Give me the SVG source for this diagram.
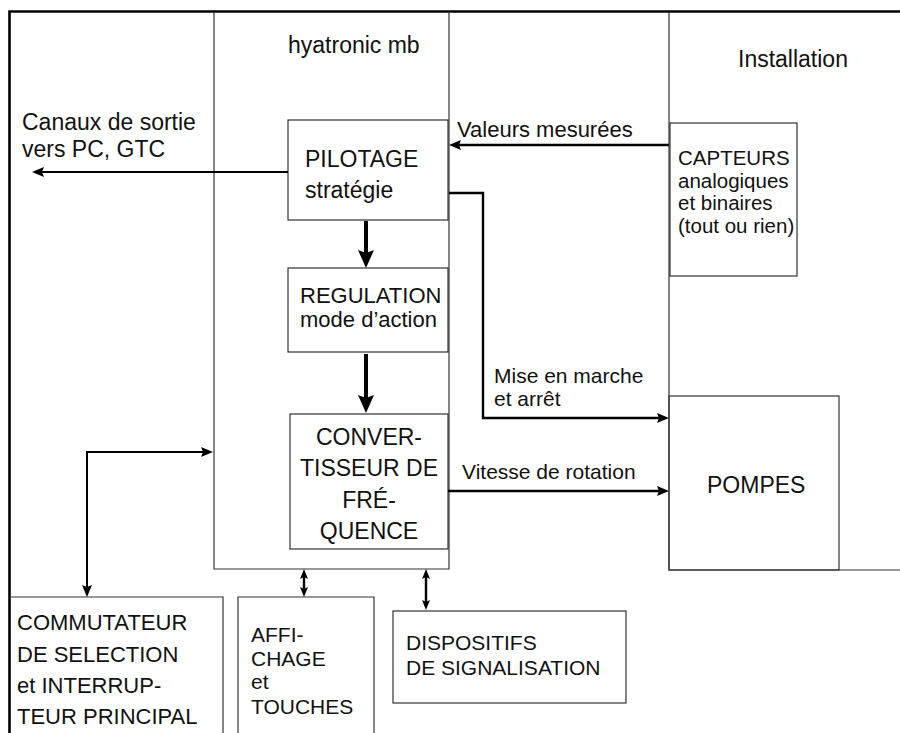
<svg xmlns="http://www.w3.org/2000/svg" width="900" height="733" viewBox="0 0 900 733">
<style>
.t{font-family:"Liberation Sans",Arial,Helvetica,sans-serif;fill:#111}
.box{fill:none;stroke:#333;stroke-width:1.2}
.frame{fill:none;stroke:#000;stroke-width:2.6}
.c{fill:none;stroke:#000;stroke-width:2.4}
.ck{fill:none;stroke:#000;stroke-width:4}
.cb{fill:none;stroke:#000;stroke-width:2}
.mid{text-anchor:middle}
</style>
<defs>
<marker id="ah" viewBox="0 0 12 10" refX="4" refY="5" markerWidth="12" markerHeight="10" markerUnits="userSpaceOnUse" orient="auto-start-reverse"><path d="M0,0 L12,5 L0,10 L2,5 Z" fill="#000"/></marker>
<marker id="ahb" viewBox="0 0 18 16" refX="6" refY="8" markerWidth="18" markerHeight="16" markerUnits="userSpaceOnUse" orient="auto"><path d="M0,0 L18,8 L0,16 L3,8 Z" fill="#000"/></marker>
<marker id="ahs" viewBox="0 0 10 8" refX="4" refY="4" markerWidth="10" markerHeight="8" markerUnits="userSpaceOnUse" orient="auto-start-reverse"><path d="M0,0 L10,4 L0,8 L2,4 Z" fill="#000"/></marker>
</defs>

<path class="frame" d="M9.5,733 V11.5 H900"/>

<g id="hyatronic">
<path class="box" d="M214,12 V569 H449 V12"/>
<text class="t" x="288" y="53" font-size="23">hyatronic mb</text>
</g>

<g id="installation">
<path class="box" d="M669,12 V570 H900"/>
<text class="t" x="738" y="67" font-size="23">Installation</text>
</g>

<g id="pilotage">
<rect class="box" x="288" y="120" width="160" height="100"/>
<text class="t" x="305" y="167" font-size="23">PILOTAGE</text>
<text class="t" x="305" y="198" font-size="23">stratégie</text>
</g>

<g id="regulation">
<rect class="box" x="288" y="268" width="160" height="84"/>
<text class="t" x="300" y="303" font-size="22">REGULATION</text>
<text class="t" x="300" y="327" font-size="22">mode d’action</text>
</g>

<g id="convertisseur">
<rect class="box" x="290" y="414" width="158" height="135"/>
<text class="t mid" x="369" y="445" font-size="23">CONVER-</text>
<text class="t mid" x="369" y="476" font-size="23">TISSEUR DE</text>
<text class="t mid" x="369" y="508" font-size="23">FRÉ-</text>
<text class="t mid" x="369" y="539" font-size="23">QUENCE</text>
</g>

<g id="capteurs">
<rect class="box" x="670" y="123" width="127" height="153"/>
<text class="t" x="678" y="165" font-size="20.5">CAPTEURS</text>
<text class="t" x="678" y="188" font-size="20.5">analogiques</text>
<text class="t" x="678" y="210" font-size="20.5">et binaires</text>
<text class="t" x="678" y="233" font-size="20.5">(tout ou rien)</text>
</g>

<g id="pompes">
<rect class="box" x="669" y="396" width="170" height="174"/>
<text class="t" x="707" y="493" font-size="23">POMPES</text>
</g>

<g id="commutateur">
<path class="box" d="M9,597 H223 V733"/>
<text class="t" x="17" y="630" font-size="22">COMMUTATEUR</text>
<text class="t" x="17" y="662" font-size="22">DE SELECTION</text>
<text class="t" x="17" y="693" font-size="22">et INTERRUP-</text>
<text class="t" x="17" y="724" font-size="22">TEUR PRINCIPAL</text>
</g>

<g id="affichage">
<path class="box" d="M238,733 V597 H374 V733"/>
<text class="t" x="251" y="642" font-size="21">AFFI-</text>
<text class="t" x="251" y="666" font-size="21">CHAGE</text>
<text class="t" x="251" y="689" font-size="21">et</text>
<text class="t" x="251" y="714" font-size="21">TOUCHES</text>
</g>

<g id="dispositifs">
<rect class="box" x="393" y="611" width="233" height="92"/>
<text class="t" x="406" y="650" font-size="21">DISPOSITIFS</text>
<text class="t" x="406" y="675" font-size="21">DE SIGNALISATION</text>
</g>

<g id="labels">
<text class="t" x="22" y="130" font-size="23">Canaux de sortie</text>
<text class="t" x="22" y="157" font-size="23">vers PC, GTC</text>
<text class="t" x="457" y="137" font-size="22">Valeurs mesurées</text>
<text class="t" x="494" y="383" font-size="21">Mise en marche</text>
<text class="t" x="494" y="406" font-size="21">et arrêt</text>
<text class="t" x="462" y="479" font-size="21">Vitesse de rotation</text>
</g>

<g id="connectors">
<path class="cb" d="M288,172 H40" marker-end="url(#ah)"/>
<path class="c" d="M669,145 H457" marker-end="url(#ah)"/>
<path class="c" d="M449,193 H483 V418 H661" marker-end="url(#ah)"/>
<path class="c" d="M448,491 H661" marker-end="url(#ah)"/>
<path class="ck" d="M366,221 V256" marker-end="url(#ahb)"/>
<path class="ck" d="M366,354 V401" marker-end="url(#ahb)"/>
<path class="cb" d="M205,452 H87 V589" marker-start="url(#ah)" marker-end="url(#ah)"/>
<path class="c" d="M304,575 V591" marker-start="url(#ahs)" marker-end="url(#ahs)"/>
<path class="c" d="M426,575 V604" marker-start="url(#ahs)" marker-end="url(#ahs)"/>
</g>
</svg>
